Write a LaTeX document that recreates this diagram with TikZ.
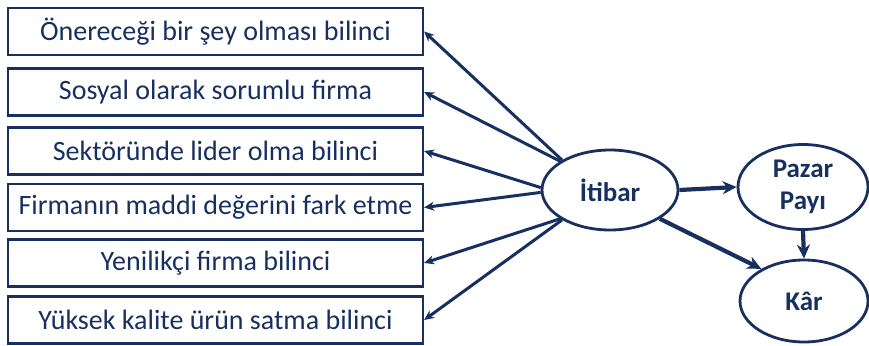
\documentclass[tikz,border=0pt]{standalone}
\usepackage{fontspec}
\setmainfont{Carlito}
\usetikzlibrary{shapes.geometric,arrows.meta}
\definecolor{navy}{RGB}{24,48,96}
\begin{document}
\begin{tikzpicture}[x=1pt,y=-1pt,
  itembox/.style={draw=navy,line width=2.2pt,minimum width=415pt,minimum height=47pt,
    inner sep=0pt,text=navy,font=\fontsize{28}{32}\selectfont},
  latent/.style={draw=navy,line width=2.8pt,ellipse,inner sep=0pt,text=navy,
    font=\bfseries\fontsize{27}{30}\selectfont,align=center},
  load/.style={draw=navy,line width=3pt,-{Stealth[length=10pt,width=9pt]}},
  path/.style={draw=navy,line width=4.2pt,-{Stealth[length=14pt,width=13pt]}}]
\useasboundingbox (0,0) rectangle (869,345);
% indicator boxes
\node[itembox] (b1) at (215.5,31.5) {Önereceği bir şey olması bilinci};
\node[itembox] (b2) at (215.5,92) {Sosyal olarak sorumlu firma};
\node[itembox] (b3) at (215.5,151) {Sektöründe lider olma bilinci};
\node[itembox] (b4) at (215.5,207.5) {Firmanın maddi değerini fark etme};
\node[itembox] (b5) at (215.5,263) {Yenilikçi firma bilinci};
\node[itembox] (b6) at (215.5,320) {Yüksek kalite ürün satma bilinci};
% latent constructs
\node[latent,minimum width=136pt,minimum height=80pt] (it) at (610,190) {İtibar};
\node[latent,minimum width=130pt,minimum height=85pt] (pp) at (803,187) {Pazar\\[2pt]Payı};
\node[latent,minimum width=128pt,minimum height=82pt] (kr) at (804,301) {Kâr};
% loadings
\draw[load] (it.148) -- (b1.east);
\draw[load] (it.150) -- (b2.east);
\draw[load] (it.178) -- (b3.east);
\draw[load] (it.182) -- (b4.east);
\draw[load] (it.210) -- (b5.east);
\draw[load] (it.212) -- (b6.east);
% structural paths
\draw[path] (it.east) -- (pp.west);
\draw[path] (it.-30) -- (kr.143);
\draw[path] (pp.south) -- (kr.north);
\end{tikzpicture}
\end{document}
